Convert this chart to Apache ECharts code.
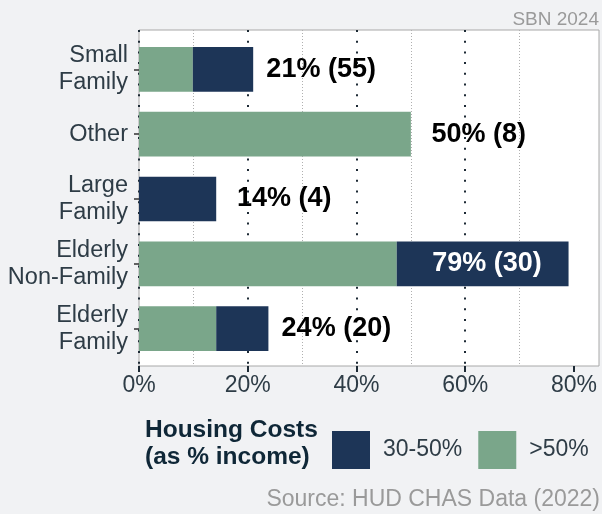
<!DOCTYPE html>
<html lang="en">
<head>
    <meta charset="UTF-8">
    <title>Housing cost burden by household type</title>
    <style>
        html, body { margin: 0; padding: 0; background: #f1f2f4; }
    </style>
</head>
<body>
<div id="main" style="width:602px;height:514px;"></div>
<script src="https://cdn.jsdelivr.net/npm/echarts@6/dist/echarts.min.js"></script>
<script>
    // household types, top to bottom
    var categories = ['Small\nFamily', 'Other', 'Large\nFamily', 'Elderly\nNon-Family', 'Elderly\nFamily'];
    // share of households paying >50% of income
    var over50 = [9.9, 50, 0, 47.4, 14.2];
    // share paying 30-50% of income
    var from30to50 = [11.1, 0, 14.2, 31.6, 9.6];
    // number of households burdened
    var counts = [55, 8, 4, 30, 20];
    var xTicks = [0, 20, 40, 60, 80];

    var navy = '#1d3557';
    var green = '#7aa68a';
    var textColor = '#2e3c46';

    var myChart = echarts.init(document.getElementById('main'));

    var labelData = categories.map(function (c, i) {
        var total = over50[i] + from30to50[i];
        var inside = total > 70;
        return {
            value: [inside ? total - 15 : total + 12.5, c],
            text: Math.round(total) + '% (' + counts[i] + ')',
            label: {color: inside ? '#ffffff' : '#000000'}
        };
    });

    var option = {
        backgroundColor: '#f1f2f4',
        animation: false,
        grid: [
            // plot panel (background, gridlines, x axis)
            {left: 139, right: 3, top: 30, bottom: 148, show: true,
                backgroundColor: '#ffffff', borderColor: '#a8a8a8', borderWidth: 1},
            // bars
            {left: 139, right: 3, top: 37, bottom: 153}
        ],
        xAxis: [
            {
                gridIndex: 0, type: 'value', min: 0, max: 84.6, interval: 20,
                axisLine: {show: false},
                axisTick: {show: true, length: 6, customValues: xTicks,
                    lineStyle: {color: '#1d2a35', width: 2}},
                axisLabel: {customValues: xTicks, formatter: '{value}%', margin: 8,
                    color: textColor, fontSize: 23, fontFamily: 'Liberation Sans'},
                splitLine: {show: true, showMaxLine: false,
                    lineStyle: {color: '#1d2a35', width: 2, type: [2, 8.7]}}
            },
            {
                gridIndex: 0, type: 'value', min: 0, max: 84.6, interval: 10,
                axisLine: {show: false}, axisTick: {show: false}, axisLabel: {show: false},
                splitLine: {show: true, showMaxLine: false,
                    lineStyle: {color: ['rgba(0,0,0,0)', '#b0b0b0'], width: 1, type: [1, 2]}}
            },
            {gridIndex: 1, type: 'value', min: 0, max: 84.6, show: false}
        ],
        yAxis: [
            {gridIndex: 0, type: 'value', show: false},
            {
                gridIndex: 1, type: 'category', inverse: true, data: categories,
                axisLine: {show: false},
                axisTick: {show: true, alignWithLabel: true, length: 5,
                    lineStyle: {color: '#333333', width: 1.5}},
                axisLabel: {color: textColor, fontSize: 23.5, lineHeight: 27, margin: 11,
                    fontFamily: 'Liberation Sans', align: 'right'}
            }
        ],
        legend: {
            data: ['30-50%', '>50%'],
            left: 327, top: 426,
            itemWidth: 38, itemHeight: 38, itemGap: 16,
            icon: 'rect',
            textStyle: {color: textColor, fontSize: 23, fontFamily: 'Liberation Sans',
                padding: [0, 0, 0, 8]}
        },
        series: [
            {
                name: '>50%', type: 'bar', stack: 'burden',
                xAxisIndex: 2, yAxisIndex: 1,
                barWidth: '69%',
                itemStyle: {color: green},
                data: over50
            },
            {
                name: '30-50%', type: 'bar', stack: 'burden',
                xAxisIndex: 2, yAxisIndex: 1,
                barWidth: '69%',
                itemStyle: {color: navy},
                data: from30to50
            },
            {
                name: 'labels', type: 'scatter',
                xAxisIndex: 2, yAxisIndex: 1,
                symbolSize: 0.1, silent: true,
                itemStyle: {color: 'rgba(0,0,0,0)', opacity: 1},
                label: {
                    show: true, position: 'inside',
                    fontSize: 27, fontWeight: 'bold', fontFamily: 'Liberation Sans',
                    formatter: function (p) { return p.data.text; }
                },
                data: labelData
            }
        ],
        graphic: [
            {type: 'text', right: 3, top: 10,
                style: {text: 'SBN 2024', fill: '#9a9a9a', font: '19px Liberation Sans'}},
            {type: 'text', left: 145, top: 417,
                style: {text: 'Housing Costs\n(as % income)', fill: '#0f2737',
                    font: 'bold 24.5px Liberation Sans', lineHeight: 27}},
            {type: 'text', right: 2, top: 488,
                style: {text: 'Source: HUD CHAS Data (2022)', fill: '#9a9a9a',
                    font: '23px Liberation Sans'}}
        ]
    };

    myChart.setOption(option);
</script>
</body>
</html>
